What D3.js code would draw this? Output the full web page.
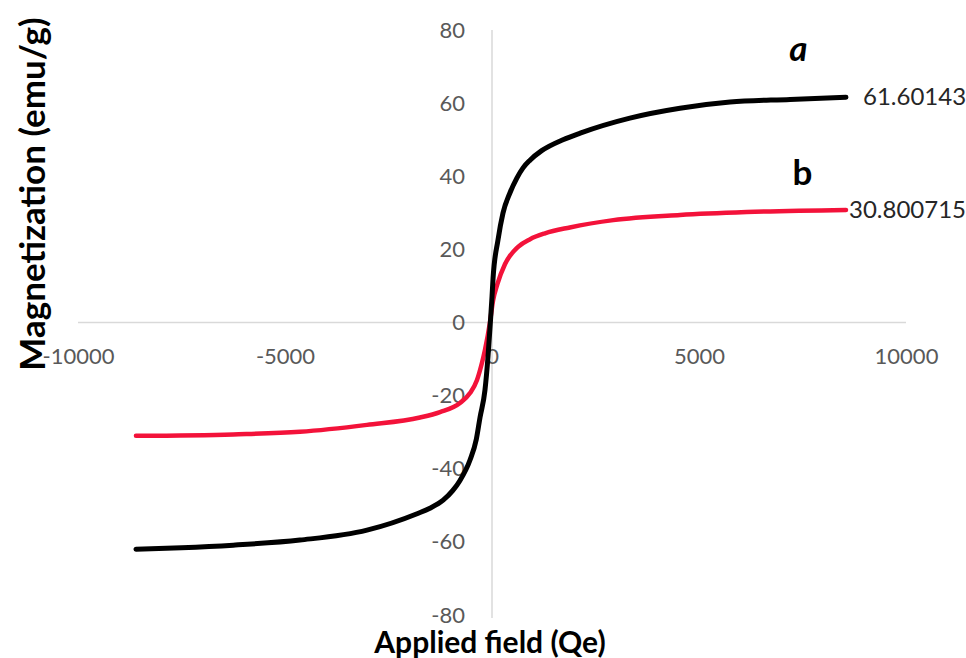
<!DOCTYPE html>
<html>
<head>
<meta charset="utf-8">
<script src="https://cdn.jsdelivr.net/npm/d3@7"></script>
<style>
  html, body { margin: 0; padding: 0; background: #fff; }
  svg { display: block; }
</style>
</head>
<body>
<svg id="chart" width="966" height="658"></svg>
<script>
// ---- data ----
const fieldA = [-8600,-7500,-6250,-4640,-3020,-1810,-1500,-1180,-950,-773,-531,-380,-290,-170,-97,-40,0,25,145,265,435,600,750,918,1200,1715,2130,3330,4540,5750,7200,8550];
const magA   = [-62,-61.6,-60.9,-59.5,-56.8,-52.3,-50.8,-48.6,-46,-43.2,-37.6,-32,-26,-18.5,-9.4,0,7,12,22.6,29.9,35.5,39.5,42.3,44.4,47,50,51.8,55.9,58.6,60.3,61,61.60143];
const fieldB = [-8600,-6250,-4640,-3020,-1740,-1256,-773,-531,-362,-242,-170,-50,25,130,315,630,920,1280,1880,2930,4540,6150,8550];
const magB   = [-31,-30.6,-29.9,-28,-26,-24.5,-22,-19.3,-15.7,-11,-7.5,0,6,10.5,16,20.7,22.8,24.4,26,28,29.4,30.2,30.800715];
const xTicks = [-10000,-5000,0,5000,10000];
const yTicks = [-80,-60,-40,-20,0,20,40,60,80];
const seriesNames = ["a","b"];
const endLabels = ["61.60143","30.800715"];
const xTitle = "Applied field (Qe)";
const yTitle = "Magnetization (emu/g)";

const svg = d3.select("#chart");
const x = d3.scaleLinear().domain([-10000,10000]).range([78,906]);
const y = d3.scaleLinear().domain([-80,80]).range([615,30]);
const fmt = d => String(d); // plain hyphen-minus as in the original

// axis lines (through origin)
svg.append("line").attr("x1", x(-10000)).attr("x2", x(10000)).attr("y1", y(0)).attr("y2", y(0))
  .attr("stroke","#d9d9d9").attr("stroke-width",1.5);
svg.append("line").attr("x1", x(0)).attr("x2", x(0)).attr("y1", y(80)).attr("y2", y(-80)+3)
  .attr("stroke","#d9d9d9").attr("stroke-width",1.5);

// y tick labels
const yAxis = d3.axisLeft(y).tickValues(yTicks).tickSize(0).tickPadding(27).tickFormat(fmt);
const gy = svg.append("g").attr("transform",`translate(${x(0)},0)`).call(yAxis);
gy.select(".domain").remove();
gy.selectAll("text").attr("font-family","Lato, sans-serif").attr("font-size",22).attr("fill","#595959");

// x tick labels (low position)
const xAxis = d3.axisBottom(x).tickValues(xTicks).tickSize(0).tickPadding(0).tickFormat(fmt);
const gx = svg.append("g").attr("transform",`translate(0,${y(0)+26})`).call(xAxis);
gx.select(".domain").remove();
gx.selectAll("text").attr("font-family","Lato, sans-serif").attr("font-size",22).attr("fill","#595959");

// curves
const line = d3.line().x(d => x(d[0])).y(d => y(d[1])).curve(d3.curveMonotoneX);
const dataA = fieldA.map((h,i) => [h, magA[i]]);
const dataB = fieldB.map((h,i) => [h, magB[i]]);
svg.append("path").datum(dataB).attr("d", line).attr("fill","none")
  .attr("stroke","#f3123a").attr("stroke-width",4.5).attr("stroke-linecap","round").attr("stroke-linejoin","round");
svg.append("path").datum(dataA).attr("d", line).attr("fill","none")
  .attr("stroke","#000").attr("stroke-width",5).attr("stroke-linecap","round").attr("stroke-linejoin","round");

// end value labels
const lastA = dataA[dataA.length-1], lastB = dataB[dataB.length-1];
svg.append("text").attr("x", x(lastA[0]) + 17).attr("y", y(lastA[1]) + 8)
  .attr("font-family","Lato, sans-serif").attr("font-size",24).attr("fill","#262626").text(endLabels[0]);
svg.append("text").attr("x", x(lastB[0]) + 3).attr("y", y(lastB[1]) + 8)
  .attr("font-family","Lato, sans-serif").attr("font-size",24).attr("fill","#262626").text(endLabels[1]);

// series letters
svg.append("text").attr("x", x(7400)).attr("y", y(71.5)).attr("text-anchor","middle")
  .attr("font-family","Lato, sans-serif").attr("font-size",35).attr("font-weight","bold").attr("font-style","italic")
  .attr("fill","#000").text(seriesNames[0]);
svg.append("text").attr("x", x(7500)).attr("y", y(37.5)).attr("text-anchor","middle")
  .attr("font-family","Lato, sans-serif").attr("font-size",35).attr("font-weight","bold")
  .attr("fill","#000").text(seriesNames[1]);

// axis titles
svg.append("text").attr("x", 490).attr("y", 653).attr("text-anchor","middle")
  .attr("font-family","Lato, sans-serif").attr("font-size",30).attr("font-weight","bold").attr("fill","#000").text(xTitle);
svg.append("text").attr("transform","translate(45,194) rotate(-90)").attr("text-anchor","middle")
  .attr("font-family","Lato, sans-serif").attr("font-size",35).attr("font-weight","bold").attr("fill","#000").text(yTitle);
</script>
</body>
</html>
